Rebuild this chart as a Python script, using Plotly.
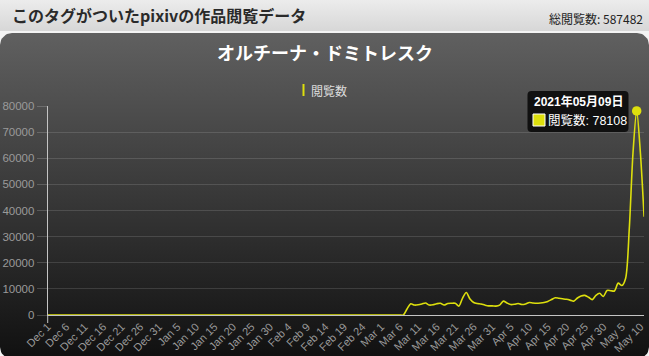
import numpy as np
import pandas as pd
import plotly.graph_objects as go

# ---------------- data ----------------
views_dec = [0, 0, 0, 0, 0, 0, 0, 0, 0, 0, 0, 0, 0, 0, 0, 0,
             0, 0, 0, 0, 0, 0, 0, 0, 0, 0, 0, 0, 0, 0, 0]
views_jan = [0, 0, 0, 0, 0, 0, 0, 0, 0, 0, 0, 0, 0, 0, 0, 0,
             0, 0, 0, 0, 0, 0, 0, 0, 0, 0, 0, 0, 0, 0, 0]
views_feb = [0, 0, 0, 0, 0, 0, 0, 0, 0, 0, 0, 0, 0, 0,
             0, 0, 0, 0, 0, 0, 0, 0, 0, 0, 0, 0, 0, 0]
views_mar = [0, 0, 0, 0, 0, 0, 0, 2300, 4300, 3800, 3900, 4200, 4600, 3800, 3900, 4300,
             4500, 3800, 4400, 4500, 4500, 3400, 6500, 8600, 6100, 4800, 4400, 4200, 3800, 3500, 3500]
views_apr = [3400, 3800, 5300, 4600, 4000, 4100, 4400, 4000, 4200, 4800, 4600, 4500, 4600, 4800, 5200,
             5900, 6600, 6400, 6200, 6000, 5700, 5300, 6500, 7300, 7500, 6800, 5900, 7500, 8300, 7100]
views_may = [9400, 9300, 9200, 12200, 11300, 14000, 33000, 62000, 78108, 62000, 37600]

start_date = "2020-12-01"
series_name = "閲覧数"
chart_title = "オルチーナ・ドミトレスク"
page_title = "このタグがついたpixivの作品閲覧データ"
total_label = "総閲覧数: 587482"
y_ticks = [0, 10000, 20000, 30000, 40000, 50000, 60000, 70000, 80000]

views = views_dec + views_jan + views_feb + views_mar + views_apr + views_may
dates = pd.date_range(start_date, periods=len(views), freq="D")
tick_dates = dates[::5]
tick_text = [f"{d:%b} {d.day}" for d in tick_dates]

peak_i = int(np.argmax(views))
peak_date = dates[peak_i]
peak_val = views[peak_i]

# ---------------- layout helpers (pixel space) ----------------
W, H = 649, 356
def Y(py):
    return H - py

YELLOW = "#DDDF0D"
FONT = "Liberation Sans, Arial, Noto Sans CJK JP, sans-serif"
JFONT = "Noto Sans CJK JP, sans-serif"

def rounded_rect(x0, x1, ytop, ybot, r, n=12):
    xs, ys = [], []
    corners = [((x1 - r, ytop - r), 0, 90), ((x0 + r, ytop - r), 90, 180),
               ((x0 + r, ybot + r), 180, 270), ((x1 - r, ybot + r), 270, 360)]
    for (cx, cy), a0, a1 in corners:
        t = np.radians(np.linspace(a0, a1, n))
        xs += list(cx + r * np.cos(t))
        ys += list(cy + r * np.sin(t))
    xs.append(xs[0]); ys.append(ys[0])
    return xs, ys

fig = go.Figure()

# header background
fig.add_trace(go.Scatter(
    x=[0, W, W, 0, 0], y=[Y(0), Y(0), Y(31), Y(31), Y(0)],
    xaxis="x", yaxis="y", mode="lines", line=dict(width=0),
    fill="toself",
    fillgradient=dict(type="vertical", colorscale=[[0, "#d7d7d7"], [1, "#ececec"]]),
    hoverinfo="skip", showlegend=False))

# dark chart panel
px, py = rounded_rect(0, W, Y(33), Y(359), 12)
fig.add_trace(go.Scatter(
    x=px, y=py, xaxis="x", yaxis="y", mode="lines", line=dict(width=0),
    fill="toself",
    fillgradient=dict(type="vertical", colorscale=[[0, "rgb(16,16,16)"], [1, "rgb(96,96,96)"]]),
    hoverinfo="skip", showlegend=False))

# main series
fig.add_trace(go.Scatter(
    x=dates, y=views, xaxis="x2", yaxis="y2", mode="lines",
    line=dict(color=YELLOW, width=1.6, shape="spline", smoothing=0.8),
    name=series_name, showlegend=False))

# highlighted peak point
fig.add_trace(go.Scatter(
    x=[peak_date], y=[peak_val], xaxis="x2", yaxis="y2", mode="markers",
    marker=dict(color=YELLOW, size=9.5), showlegend=False, cliponaxis=False))

x_left, x_right = 47.7, 644.1
y_top, y_bot = 106, 315

shapes = [
    # tooltip box
    dict(type="path", xref="x", yref="y", layer="above",
         path=(f"M {527.5+4},{Y(91)} L {628.5-4},{Y(91)} Q {628.5},{Y(91)} {628.5},{Y(95)} "
               f"L {628.5},{Y(132)+4} Q {628.5},{Y(132)} {628.5-4},{Y(132)} "
               f"L {527.5+4},{Y(132)} Q {527.5},{Y(132)} {527.5},{Y(132)+4} "
               f"L {527.5},{Y(95)} Q {527.5},{Y(91)} {527.5+4},{Y(91)} Z"),
         fillcolor="rgba(12,12,12,0.93)", line=dict(width=0)),
    # tooltip colour square
    dict(type="rect", xref="x", yref="y", layer="above",
         x0=533, x1=545, y0=Y(114), y1=Y(126),
         fillcolor=YELLOW, line=dict(color="white", width=1)),
    # legend symbol
    dict(type="line", xref="x", yref="y", x0=303.5, x1=303.5, y0=Y(84), y1=Y(96),
         line=dict(color=YELLOW, width=2)),
    # small tick below first category
    dict(type="line", xref="x", yref="y", x0=x_left, x1=x_left, y0=Y(315), y1=Y(323),
         line=dict(color="#c4c4c4", width=1)),
]

annotations = [
    dict(xref="x", yref="y", x=10, y=Y(14.5), text=f"<b>{page_title}</b>", showarrow=False,
         xanchor="left", yanchor="middle", font=dict(family=JFONT, size=16, color="#2a2a2a")),
    dict(xref="x", yref="y", x=645, y=Y(18), text=total_label, showarrow=False,
         xanchor="right", yanchor="middle", font=dict(family=JFONT, size=12, color="#222222")),
    dict(xref="x", yref="y", x=324.5, y=Y(52), text=f"<b>{chart_title}</b>", showarrow=False,
         xanchor="center", yanchor="middle", font=dict(family=JFONT, size=18, color="#ffffff")),
    dict(xref="x", yref="y", x=309, y=Y(90), text=series_name, showarrow=False,
         xanchor="left", yanchor="middle", font=dict(family=JFONT, size=12, color="#dddddd")),
    dict(xref="x", yref="y", x=532, y=Y(101.5), text=f"<b>{peak_date:%Y年%m月%d日}</b>",
         showarrow=False, xanchor="left", yanchor="middle",
         font=dict(family=FONT, size=12, color="#ffffff")),
    dict(xref="x", yref="y", x=546, y=Y(120.5), text=f"{series_name}: {peak_val}",
         showarrow=False, xanchor="left", yanchor="middle",
         font=dict(family=FONT, size=12.5, color="#ffffff")),
]

fig.update_layout(
    width=W, height=H,
    margin=dict(l=0, r=0, t=0, b=0, pad=0, autoexpand=False),
    paper_bgcolor="#f3f3f3",
    plot_bgcolor="rgba(0,0,0,0)",
    showlegend=False,
    hovermode=False,
    xaxis=dict(domain=[0, 1], range=[0, W], visible=False, fixedrange=True, automargin=False),
    yaxis=dict(domain=[0, 1], range=[0, H], visible=False, fixedrange=True, automargin=False),
    xaxis2=dict(
        domain=[x_left / W, x_right / W], anchor="y2", automargin=False,
        type="date", range=[dates[0], dates[-1]],
        tickvals=list(tick_dates), ticktext=tick_text, tickangle=-45,
        tickfont=dict(family=FONT, size=11, color="#9a9a9a"),
        showgrid=False, zeroline=False, ticks="",
        showline=True, linecolor="#c4c4c4", linewidth=1, fixedrange=True),
    yaxis2=dict(
        domain=[Y(y_bot) / H, Y(y_top) / H], anchor="x2", automargin=False,
        range=[0, 80000], tickvals=y_ticks, ticktext=[str(v) for v in y_ticks],
        tickfont=dict(family=FONT, size=11.5, color="#9a9a9a"),
        showgrid=True, gridcolor="rgba(255,255,255,0.13)", gridwidth=1,
        ticks="outside", ticklen=10, tickcolor="rgba(255,255,255,0.18)",
        zeroline=False, showline=True, linecolor="#c4c4c4", linewidth=1,
        fixedrange=True),
    shapes=shapes,
    annotations=annotations,
)

fig.write_html("out.html", config={"displayModeBar": False})
